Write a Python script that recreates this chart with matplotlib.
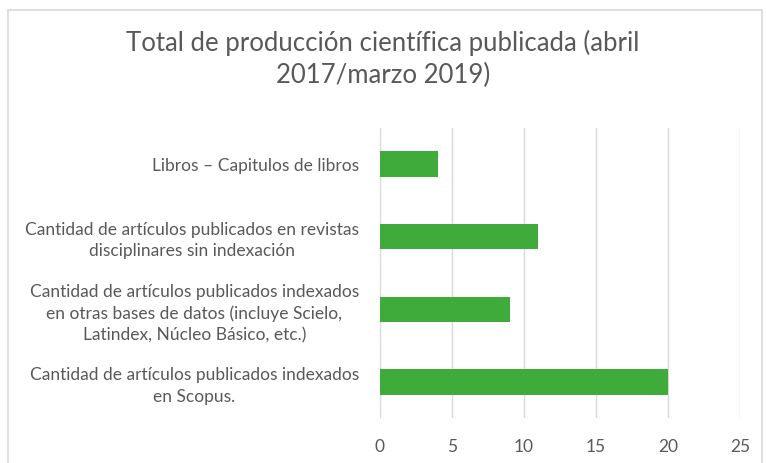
import matplotlib.pyplot as plt
from matplotlib.patches import Rectangle

plt.rcParams['font.family'] = ['Lato', 'DejaVu Sans']

# data (bottom to top as drawn)
categories = [
    "Cantidad de artículos publicados indexados\nen Scopus.",
    "Cantidad de artículos publicados indexados\nen otras bases de datos (incluye Scielo,\nLatindex, Núcleo Básico, etc.)",
    "Cantidad de artículos publicados en revistas\ndisciplinares sin indexación",
    "Libros – Capitulos de libros",
]
values = [20, 9, 11, 4]
xticks = [0, 5, 10, 15, 20, 25]

text_color = '#595959'
bar_color = '#3fab3a'

fig = plt.figure(figsize=(7.66, 4.63), dpi=100)
ax = fig.add_axes([0.496, 0.097, 0.47, 0.627])

ypos = list(range(len(categories)))
ax.barh(ypos, values, height=0.35, color=bar_color, zorder=3)

ax.set_xlim(0, 25)
ax.set_ylim(-0.5, len(categories) - 0.5)
ax.set_xticks(xticks)
ax.set_yticks(ypos)
ax.set_yticklabels(categories, multialignment='center', linespacing=1.4)

ax.grid(axis='x', color='#d9d9d9', linewidth=1, zorder=0)
for s in ax.spines.values():
    s.set_visible(False)
ax.tick_params(axis='both', length=0, colors=text_color, labelsize=12.5)
ax.tick_params(axis='y', pad=15)
ax.tick_params(axis='x', pad=15)

fig.text(0.5, 0.935, "Total de producción científica publicada (abril\n2017/marzo 2019)",
         ha='center', va='top', fontsize=18.5, color=text_color, linespacing=1.35)

# chart frame
fig.patches.append(Rectangle((0.01, -0.02), 0.985, 0.998, transform=fig.transFigure,
                             fill=False, edgecolor='#d9d9d9', linewidth=1.2))

fig.savefig('out.png', dpi=100)
